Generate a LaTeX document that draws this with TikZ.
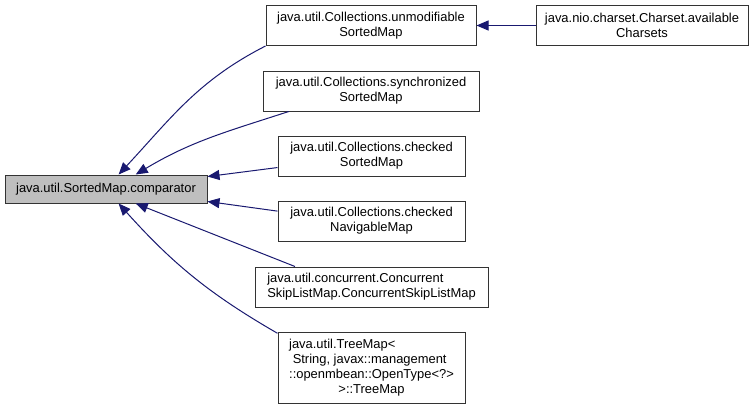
\documentclass[tikz,border=0pt]{standalone}
\usepackage{fontspec}
\setmainfont{Liberation Sans}
\usetikzlibrary{positioning,arrows.meta}
\definecolor{edgeblue}{HTML}{191970}
\definecolor{boxgray}{HTML}{BFBFBF}

\begin{document}
\begin{tikzpicture}[x=0.75pt,y=-0.75pt,>={Triangle[length=9pt,width=7.5pt]},
                    font=\fontsize{9.7pt}{11.25pt}\selectfont]
  \tikzstyle{member}=[draw=black!80,line width=0.75pt,fill=white,align=center,
                      inner sep=2pt,minimum height=40*0.75pt]
  \tikzstyle{dep}=[<-,draw=edgeblue,line width=0.75pt]

  \useasboundingbox (0,0) rectangle (756,408);

  \node[member,fill=boxgray,minimum width=202*0.75pt,minimum height=28*0.75pt]
        (main)  at (106,189)   {java.util.SortedMap.comparator};
  \node[member,minimum width=210*0.75pt] (unmod)   at (371,25.5)  {java.util.Collections.unmodifiable\\SortedMap};
  \node[member,minimum width=212*0.75pt] (charset) at (642,25.5)  {java.nio.charset.Charset.available\\Charsets};
  \node[member,minimum width=216*0.75pt] (sync)    at (371,91)    {java.util.Collections.synchronized\\SortedMap};
  \node[member,minimum width=187*0.75pt] (checked) at (371.5,156) {java.util.Collections.checked\\SortedMap};
  \node[member,minimum width=187*0.75pt] (navig)   at (371.5,221) {java.util.Collections.checked\\NavigableMap};
  \node[member,minimum width=233*0.75pt,align=left]
        (conc)  at (371.5,287) {java.util.concurrent.Concurrent\\SkipListMap.ConcurrentSkipListMap};
  \node[member,minimum width=187*0.75pt,minimum height=71*0.75pt]
        (tree)  at (371.5,367.5)
        {\begin{tabular}{@{}l@{}}java.util.TreeMap<\\
         \ String, javax::management\\
         ::openmbean::OpenType<?>\\
         \multicolumn{1}{@{}c@{}}{>::TreeMap}\end{tabular}};

  \draw[dep] (main.49)  to[out=47,in=207]  (unmod.191);
  \draw[dep] (main.26)  to[out=31,in=198]  (sync.194);
  \draw[dep] (main.7)   --                 (checked.187);
  \draw[dep] (main.-7)  --                 (navig.174);
  \draw[dep] (main.-26) --                 (conc.165);
  \draw[dep] (main.-49) to[out=-48,in=150] (tree.160);
  \draw[dep] (unmod)    --                 (charset);
\end{tikzpicture}
\end{document}
